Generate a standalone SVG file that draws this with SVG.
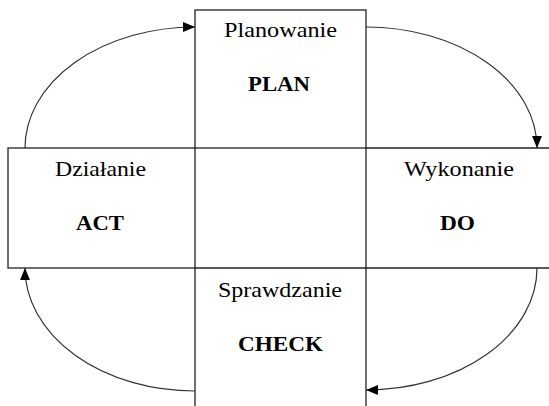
<svg xmlns="http://www.w3.org/2000/svg" width="549" height="406" viewBox="0 0 549 406">
  <defs>
    <marker id="arrow" markerUnits="userSpaceOnUse" markerWidth="12" markerHeight="10" refX="12" refY="5" orient="auto">
      <path d="M0,0 L12,5 L0,10 z" fill="#000"/>
    </marker>
    <style>
      .box { fill: none; stroke: #222; stroke-width: 1.3; }
      .flow { fill: none; stroke: #333; stroke-width: 1.2; marker-end: url(#arrow); }
      .lbl { font-family: "Liberation Serif", "Times New Roman", serif; font-size: 21px; fill: #000; text-anchor: middle; }
      .key { font-weight: bold; }
    </style>
  </defs>
  <rect width="549" height="406" fill="#fff"/>

  <!-- PDCA cycle arrows -->
  <g id="connectors">
    <path class="flow" d="M25,148 A170,121 0 0 1 195,27"/>
    <path class="flow" d="M366,27 A171,121 0 0 1 537,148"/>
    <path class="flow" d="M537,268 A171,122 0 0 1 366,390"/>
    <path class="flow" d="M195,391 A170,123 0 0 1 25,268"/>
  </g>

  <g id="plan">
    <rect class="box" x="195" y="10" width="171" height="138"/>
    <text class="lbl" x="280.5" y="37" textLength="113" lengthAdjust="spacingAndGlyphs">Planowanie</text>
    <text class="lbl key" x="279" y="91" textLength="62" lengthAdjust="spacingAndGlyphs">PLAN</text>
  </g>

  <g id="do">
    <path class="box" d="M549,148 H366 V268 H549"/>
    <text class="lbl" x="459" y="176" textLength="110" lengthAdjust="spacingAndGlyphs">Wykonanie</text>
    <text class="lbl key" x="457.5" y="230" textLength="35" lengthAdjust="spacingAndGlyphs">DO</text>
  </g>

  <g id="check">
    <path class="box" d="M195,406 V268 H366 V406"/>
    <text class="lbl" x="280" y="297" textLength="124" lengthAdjust="spacingAndGlyphs">Sprawdzanie</text>
    <text class="lbl key" x="280.5" y="351" textLength="85" lengthAdjust="spacingAndGlyphs">CHECK</text>
  </g>

  <g id="act">
    <rect class="box" x="8" y="148" width="187" height="120"/>
    <text class="lbl" x="100.5" y="176" textLength="91" lengthAdjust="spacingAndGlyphs">Działanie</text>
    <text class="lbl key" x="100" y="230" textLength="48" lengthAdjust="spacingAndGlyphs">ACT</text>
  </g>
</svg>
